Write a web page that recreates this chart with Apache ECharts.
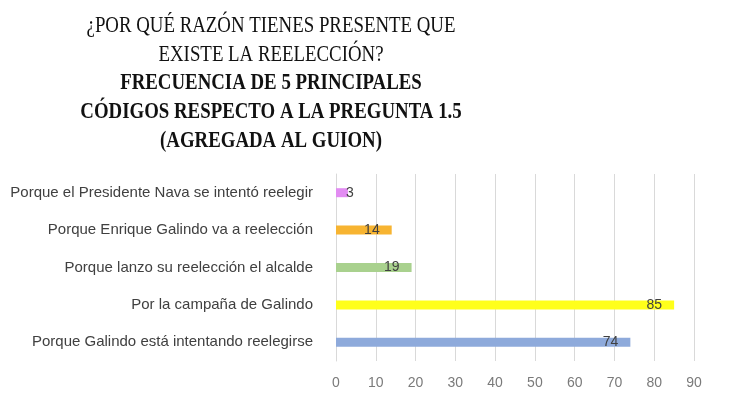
<!DOCTYPE html>
<html><head><meta charset="utf-8">
<script src="https://cdn.jsdelivr.net/npm/echarts@6/dist/echarts.min.js"></script>
<style>html,body{margin:0;padding:0;background:#fff}#c{width:737px;height:400px}</style>
</head><body><div id="c"></div>
<script>
const categories = [
  'Porque el Presidente Nava se intentó reelegir',
  'Porque Enrique Galindo va a reelección',
  'Porque lanzo su reelección el alcalde',
  'Por la campaña de Galindo',
  'Porque Galindo está intentando reelegirse'
];
const values = [3, 14, 19, 85, 74];
const barColors = ['#e28cf2', '#f7b431', '#a9d18e', '#ffff1a', '#8eaadb'];
const titleLines = [
  '¿POR QUÉ RAZÓN TIENES PRESENTE QUE',
  'EXISTE LA REELECCIÓN?',
  'FRECUENCIA DE 5 PRINCIPALES',
  'CÓDIGOS RESPECTO A LA PREGUNTA 1.5',
  '(AGREGADA AL GUION)'
];
const titleBold = [false, false, true, true, true];

const chart = echarts.init(document.getElementById('c'), null, {renderer: 'canvas'});
const titleY = [26, 55, 83, 112, 141];
const graphics = titleLines.map((t, i) => ({
  type: 'text', x: 271, y: titleY[i], scaleX: 0.785,
  style: {
    text: t, textAlign: 'center', textVerticalAlign: 'middle',
    font: (titleBold[i] ? 'bold ' : '') + '24px "Liberation Serif", "Times New Roman", serif',
    fill: '#111'
  }
}));

chart.setOption({
  animation: false,
  graphic: graphics,
  grid: {left: 336, right: 43, top: 174, bottom: 39},
  xAxis: {
    type: 'value', min: 0, max: 90, interval: 10,
    axisLine: {show: false}, axisTick: {show: false},
    splitLine: {lineStyle: {color: '#d9d9d9', width: 1}},
    axisLabel: {color: '#7a7a7a', fontSize: 14, fontFamily: 'Liberation Sans', margin: 15}
  },
  yAxis: {
    type: 'category', data: categories, inverse: true,
    axisLine: {show: true, lineStyle: {color: '#d9d9d9'}},
    axisTick: {show: false},
    axisLabel: {color: '#404040', fontSize: 15, fontFamily: 'Liberation Sans', margin: 23}
  },
  series: [{
    type: 'bar', barWidth: 9,
    data: values.map((v, i) => ({
      value: v,
      itemStyle: {color: barColors[i]},
      label: v < 5 ? {position: 'right', distance: -2} : {}
    })),
    label: {
      show: true, position: 'insideRight', distance: 12,
      color: '#404040', fontSize: 14, fontFamily: 'Liberation Sans'
    }
  }]
});
</script></body></html>
